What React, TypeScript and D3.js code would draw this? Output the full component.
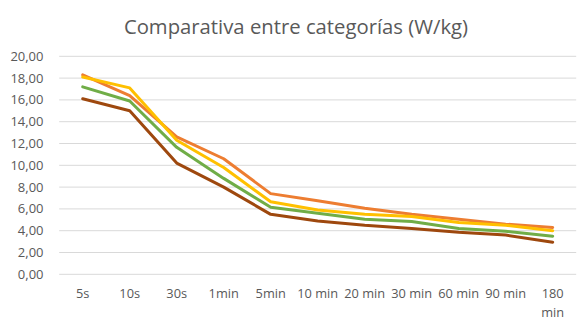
import React from "react";
import * as d3 from "d3";

const categories = ["5s", "10s", "30s", "1min", "5min", "10 min", "20 min", "30 min", "60 min", "90 min", "180 min"];
const serieMarron = [16.1, 15.0, 10.2, 8.0, 5.5, 4.9, 4.5, 4.2, 3.85, 3.6, 2.95];
const serieVerde = [17.2, 15.9, 11.65, 8.8, 6.15, 5.6, 5.05, 4.85, 4.2, 3.95, 3.5];
const serieNaranja = [18.3, 16.4, 12.6, 10.6, 7.4, 6.75, 6.05, 5.5, 5.05, 4.6, 4.3];
const serieAmarillo = [18.1, 17.1, 12.3, 9.8, 6.65, 5.9, 5.5, 5.3, 4.75, 4.5, 4.0];
const yTicks = [0, 2, 4, 6, 8, 10, 12, 14, 16, 18, 20];

const series = [
  { name: "marron", values: serieMarron, color: "#9E480E" },
  { name: "verde", values: serieVerde, color: "#70AD47" },
  { name: "naranja", values: serieNaranja, color: "#ED7D31" },
  { name: "amarillo", values: serieAmarillo, color: "#FFC000" },
];

export default function App() {
  const W = 585, H = 323;
  const x = d3.scaleBand<string>().domain(categories).range([59.2, 576.2]);
  const y = d3.scaleLinear().domain([0, 20]).range([274.3, 56.3]);
  const cx = (c: string) => (x(c) ?? 0) + x.bandwidth() / 2;
  const line = d3.line<number>().x((_, i) => cx(categories[i])).y((d) => y(d));
  const fmt = (v: number) => v.toFixed(2).replace(".", ",");
  const font = "'Open Sans', sans-serif";
  return (
    <svg width={W} height={H} style={{ position: "absolute", left: 0, top: 0, background: "#fff" }} fontFamily={font}>
      <rect width={W} height={H} fill="#fff" />
      <text x={296} y={34} textAnchor="middle" fontSize={20.3} fill="#595959">Comparativa entre categorías (W/kg)</text>
      {yTicks.map((t) => (
        <g key={t}>
          <line x1={59.2} x2={576.2} y1={y(t)} y2={y(t)} stroke="#d9d9d9" strokeWidth={1} />
          <text x={43.5} y={y(t) + 4.5} textAnchor="end" fontSize={13} fill="#595959">{fmt(t)}</text>
        </g>
      ))}
      {categories.map((c) => {
        const parts = c === "180 min" ? ["180", "min"] : [c];
        return (
          <text key={c} x={cx(c)} y={297.5} textAnchor="middle" fontSize={12.8} fill="#595959">
            {parts.map((p, i) => (
              <tspan key={i} x={cx(c)} dy={i === 0 ? 0 : 19.5}>{p}</tspan>
            ))}
          </text>
        );
      })}
      {series.map((s) => (
        <path key={s.name} d={line(s.values) ?? ""} fill="none" stroke={s.color} strokeWidth={3} strokeLinejoin="round" strokeLinecap="round" />
      ))}
    </svg>
  );
}
